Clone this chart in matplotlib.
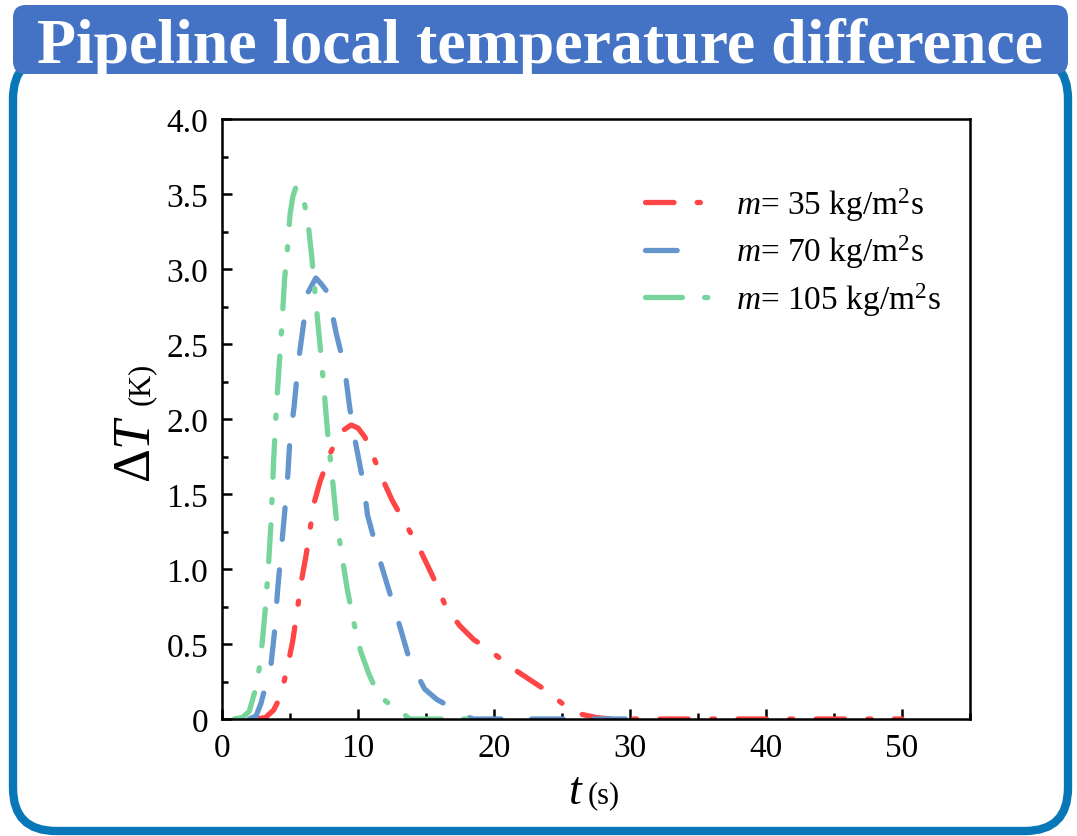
import matplotlib
matplotlib.use("Agg")
import matplotlib.pyplot as plt
from matplotlib.patches import FancyBboxPatch
from matplotlib.ticker import MultipleLocator

plt.rcParams['font.family'] = ['Liberation Serif', 'DejaVu Serif']
plt.rcParams['mathtext.fontset'] = 'custom'
plt.rcParams['mathtext.rm'] = 'Liberation Serif'
plt.rcParams['mathtext.it'] = 'Liberation Serif:italic'
plt.rcParams['mathtext.bf'] = 'Liberation Serif:bold'

# ---------------- data ----------------
title = "Pipeline local temperature difference"
labels = [r"$m$= 35 kg/m$^2$s", r"$m$= 70 kg/m$^2$s", r"$m$= 105 kg/m$^2$s"]

red_t = [2.5, 3.2, 3.8, 4.3, 4.8, 5.2, 5.5, 5.8, 6.2, 6.5, 6.8, 7.2, 7.6, 8.0, 8.5, 9.0,
         9.5, 10.0, 10.5, 11.0, 11.7, 12.5, 13.5, 14.5, 15.5, 16.5, 17.5, 18.5, 19.5,
         20.5, 21.5, 22.5, 23.5, 24.5, 25.5, 26.5, 27.5, 28.5, 50]
red_v = [0, 0.01, 0.06, 0.15, 0.34, 0.52, 0.70, 0.90, 1.10, 1.28, 1.45, 1.58, 1.68, 1.78,
         1.87, 1.93, 1.96, 1.94, 1.88, 1.78, 1.62, 1.46, 1.30, 1.14, 0.95, 0.74, 0.62,
         0.53, 0.47, 0.40, 0.33, 0.27, 0.21, 0.14, 0.07, 0.03, 0.01, 0.0, 0.0]

blue_t = [2.0, 2.5, 2.85, 3.2, 3.6, 3.85, 4.1, 4.3, 4.6, 4.8, 5.0, 5.3, 5.6, 5.9, 6.3, 6.9,
          7.3, 7.8, 8.4, 9.0, 9.4, 9.8, 10.4, 10.7, 11.5, 12.2, 13.1, 13.8, 14.9, 15.8,
          16.8, 17.5, 18.5, 30]
blue_v = [0, 0.02, 0.10, 0.22, 0.36, 0.57, 0.87, 1.07, 1.37, 1.57, 1.87, 2.08, 2.37, 2.57,
          2.84, 2.94, 2.90, 2.84, 2.57, 2.35, 2.07, 1.85, 1.57, 1.36, 1.09, 0.88, 0.61,
          0.39, 0.20, 0.13, 0.08, 0.03, 0.0, 0.0]

green_t = [0.9, 1.5, 2.0, 2.5, 2.8, 3.0, 3.2, 3.4, 3.6, 3.8, 4.0, 4.2, 4.4, 4.6, 4.8, 5.0,
           5.2, 5.45, 5.7, 6.0, 6.3, 6.6, 6.9, 7.2, 7.5, 7.8, 8.1, 8.4, 8.8, 9.2, 9.7,
           10.2, 10.8, 11.5, 12.3, 13.0, 13.8, 19.5]
green_v = [0, 0.01, 0.05, 0.21, 0.37, 0.55, 0.75, 1.00, 1.30, 1.73, 2.08, 2.35, 2.62, 2.93,
           3.12, 3.36, 3.48, 3.55, 3.52, 3.46, 3.33, 3.08, 2.78, 2.50, 2.20, 1.87, 1.62,
           1.34, 1.10, 0.87, 0.64, 0.45, 0.30, 0.16, 0.10, 0.06, 0.0, 0.0]

x_ticks = [0, 10, 20, 30, 40, 50]
y_ticks = [0, 0.5, 1.0, 1.5, 2.0, 2.5, 3.0, 3.5, 4.0]
y_ticklabels = ["0", "0.5", "1.0", "1.5", "2.0", "2.5", "3.0", "3.5", "4.0"]

# ---------------- figure ----------------
W, H = 1077, 837
fig = plt.figure(figsize=(W / 100, H / 100), dpi=100)
fig.patch.set_facecolor('white')

def fx(px):
    return px / W

def fy(py):
    return 1 - py / H

# outer frame
frame = FancyBboxPatch((fx(13), fy(832)), fx(1068) - fx(13), fy(57) - fy(832),
                       boxstyle="round,pad=0,rounding_size=0.04",
                       transform=fig.transFigure, facecolor='white',
                       edgecolor='#0877b8', linewidth=6, zorder=0,
                       mutation_aspect=W / H)
fig.add_artist(frame)
# title banner
banner = FancyBboxPatch((fx(13), fy(75)), fx(1068) - fx(13), fy(6) - fy(75),
                        boxstyle="round,pad=0,rounding_size=0.012",
                        transform=fig.transFigure, facecolor='#4472c4',
                        edgecolor='none', zorder=1, mutation_aspect=W / H)
fig.add_artist(banner)
fig.text(fx(540), fy(63), title, color='white', fontsize=46, fontweight='bold',
         ha='center', va='baseline', zorder=2)

ax = fig.add_axes([fx(222), fy(720), fx(970) - fx(222), fy(120) - fy(720)])
ax.set_xlim(0, 55)
ax.set_ylim(0, 4.0)

lw = 3.8
# dash patterns are in units of line width
ax.plot(red_t, red_v, color='#ff4545', lw=lw, dash_capstyle='round',
        linestyle=(0, (5.4, 4.4, 0.6, 4.4)), label=labels[0])
ax.plot(blue_t, blue_v, color='#6496cd', lw=lw, dash_capstyle='round',
        linestyle=(0, (6.0, 5.8)), label=labels[1])
ax.plot(green_t, green_v, color='#77d49b', lw=lw, dash_capstyle='round',
        linestyle=(0, (7.0, 4.2, 0.6, 4.2)), label=labels[2])

ax.set_xticks(x_ticks)
ax.set_yticks(y_ticks)
ax.set_yticklabels(y_ticklabels)
ax.xaxis.set_minor_locator(MultipleLocator(5))
ax.yaxis.set_minor_locator(MultipleLocator(0.25))
ax.tick_params(which='both', direction='in', top=False, right=False, width=1.8,
               labelsize=24)
ax.tick_params(which='major', length=7)
ax.tick_params(which='minor', length=4)
ax.tick_params(axis='y', pad=10)
ax.tick_params(axis='x', pad=10)
for s in ax.spines.values():
    s.set_linewidth(1.8)

leg = ax.legend(loc='upper left', bbox_to_anchor=((645 - 222) / 748, (720 - 186) / 600),
                frameon=False, fontsize=24, handlelength=2.1, handletextpad=0.62,
                labelspacing=0.3, borderpad=0, borderaxespad=0)
# blue legend handle shows a single dash, as in the reference
leg.get_lines()[1].set_linestyle((0, (6.0, 10.0)))

# axis labels
fig.text(fx(150), fy(483), r"$\Delta T$", fontsize=38, rotation=90,
         rotation_mode='anchor', ha='left', va='baseline')
fig.text(fx(149), fy(405), "(K)", fontsize=22, rotation=90,
         rotation_mode='anchor', ha='left', va='baseline')
fig.text(fx(568), fy(804), r"$t$", fontsize=33, ha='left', va='baseline')
fig.text(fx(588), fy(803), "(s)", fontsize=22, ha='left', va='baseline')

fig.savefig('out.png', dpi=100)
